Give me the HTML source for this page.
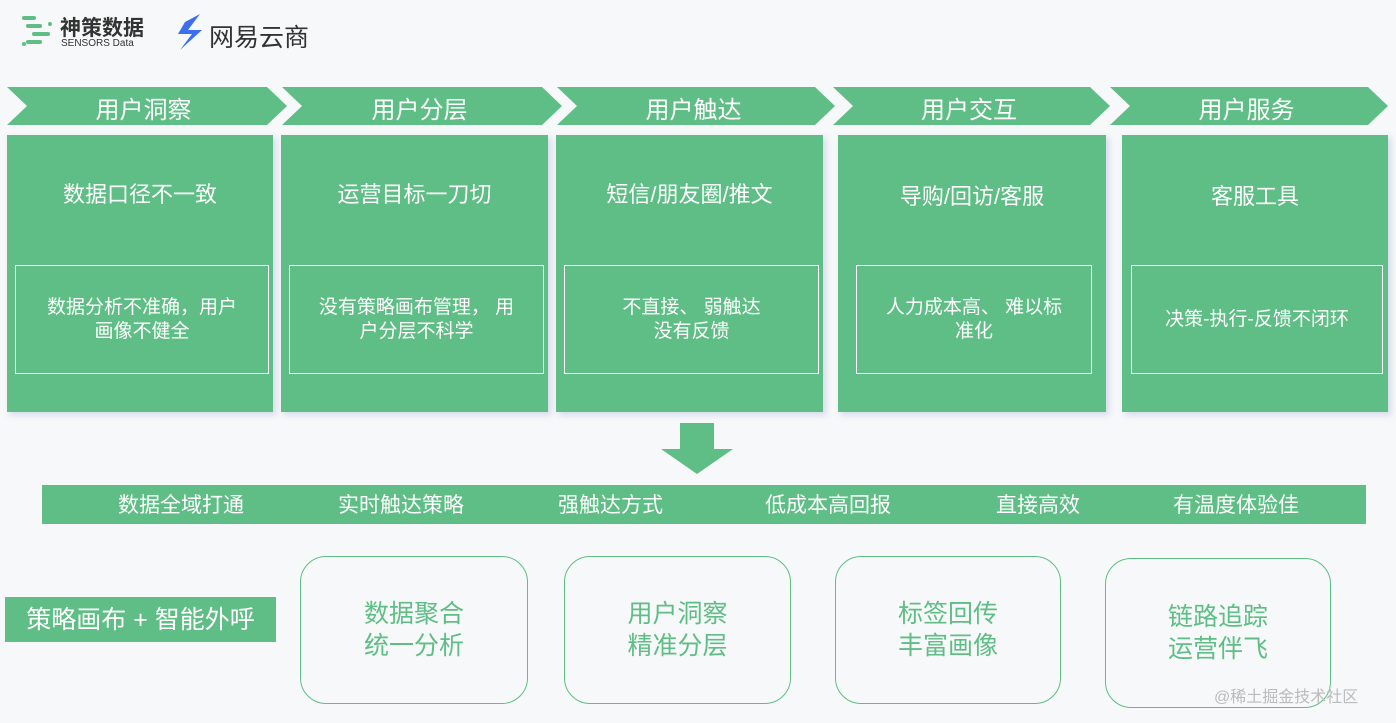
<!DOCTYPE html>
<html><head><meta charset="utf-8"><style>
body{margin:0;width:1396px;height:723px;background:#f6f8f9;position:relative;overflow:hidden;font-family:"Liberation Sans","Noto Sans CJK SC",sans-serif;}
.a{position:absolute;box-sizing:border-box}
.box{background:#5fbe85;box-shadow:3px 3px 6px rgba(120,130,200,.25)}
.t{color:#fff;text-align:center;position:absolute;left:0;right:0}
.in{position:absolute;border:1px solid #fff;display:flex;align-items:center;justify-content:center;color:#fff;font-size:19px;line-height:24px;text-align:center}
.rb{border:1.5px solid #5fbe85;border-radius:26px;background:#f6f8f9;display:flex;align-items:center;justify-content:center;color:#5fbe85;font-size:25px;line-height:32px;text-align:center}
</style></head><body>
<svg class="a" style="left:0;top:0" width="1396" height="723">
<g fill="#5fbe85">
<polygon points="7,87 267,87 287,106 267,125 7,125 27,106"/>
<polygon points="282,87 542,87 562,106 542,125 282,125 302,106"/>
<polygon points="557,87 815,87 835,106 815,125 557,125 577,106"/>
<polygon points="833,87 1090,87 1110,106 1090,125 833,125 853,106"/>
<polygon points="1110,87 1368,87 1388,106 1368,125 1110,125 1130,106"/>
<polygon points="680,423 714,423 714,449 733,449 697,474 661,449 680,449"/>
</g>
<g fill="#5fbe85"><rect x="22" y="16" width="14" height="4" rx="2"/><rect x="26" y="24" width="16" height="4" rx="2"/><rect x="32" y="32" width="18" height="4" rx="2"/><rect x="26" y="40" width="16" height="4" rx="2"/><rect x="48" y="22" width="4" height="4" rx="2"/><rect x="22" y="42" width="4" height="4" rx="2"/></g>
<path d="M185 22 L200 14 L188 30 L202 30 L180 50 L192 34 L178 34 Z" fill="#3b6ff0"/>
</svg>
<div class="a" style="left:60px;top:12px;font-size:21px;color:#333;font-weight:bold">神策数据</div>
<div class="a" style="left:61px;top:38px;font-size:10px;color:#333">SENSORS Data</div>
<div class="a" style="left:209px;top:18px;font-size:25px;color:#333">网易云商</div>
<div class="a t" style="left:0px;width:287px;right:auto;top:90px;font-size:24px">用户洞察</div>
<div class="a t" style="left:277px;width:285px;right:auto;top:90px;font-size:24px">用户分层</div>
<div class="a t" style="left:552px;width:283px;right:auto;top:90px;font-size:24px">用户触达</div>
<div class="a t" style="left:828px;width:282px;right:auto;top:90px;font-size:24px">用户交互</div>
<div class="a t" style="left:1105px;width:283px;right:auto;top:90px;font-size:24px">用户服务</div>

<div class="a box" style="left:7px;top:135px;width:266px;height:277px"><div class="t" style="top:42px;font-size:22px">数据口径不一致</div><div class="in" style="left:8px;top:130px;width:252px;height:107px">数据分析不准确，用户<br>画像不健全</div></div>
<div class="a box" style="left:281px;top:135px;width:267px;height:277px"><div class="t" style="top:42px;font-size:22px">运营目标一刀切</div><div class="in" style="left:8px;top:130px;width:253px;height:107px">没有策略画布管理， 用<br>户分层不科学</div></div>
<div class="a box" style="left:556px;top:135px;width:267px;height:277px"><div class="t" style="top:42px;font-size:22px">短信/朋友圈/推文</div><div class="in" style="left:8px;top:130px;width:253px;height:107px">不直接、 弱触达<br>没有反馈</div></div>
<div class="a box" style="left:838px;top:135px;width:268px;height:277px"><div class="t" style="top:44px;font-size:22px">导购/回访/客服</div><div class="in" style="left:18px;top:130px;width:234px;height:107px">人力成本高、 难以标<br>准化</div></div>
<div class="a box" style="left:1122px;top:135px;width:266px;height:277px"><div class="t" style="top:44px;font-size:22px">客服工具</div><div class="in" style="left:9px;top:130px;width:250px;height:107px">决策-执行-反馈不闭环</div></div>

<div class="a" style="left:42px;top:485px;width:1324px;height:39px;background:#5fbe85;color:#fff;font-size:21px;line-height:41px">
<span class="a" style="left:76px">数据全域打通</span><span class="a" style="left:296px">实时触达策略</span><span class="a" style="left:516px">强触达方式</span><span class="a" style="left:723px">低成本高回报</span><span class="a" style="left:954px">直接高效</span><span class="a" style="left:1131px">有温度体验佳</span></div>

<div class="a" style="left:5px;top:597px;width:271px;height:45px;background:#5fbe85;color:#fff;font-size:25px;line-height:47px;text-align:center">策略画布 + 智能外呼</div>
<div class="a rb" style="left:300px;top:556px;width:228px;height:148px">数据聚合<br>统一分析</div>
<div class="a rb" style="left:564px;top:556px;width:227px;height:148px">用户洞察<br>精准分层</div>
<div class="a rb" style="left:835px;top:556px;width:226px;height:148px">标签回传<br>丰富画像</div>
<div class="a rb" style="left:1105px;top:558px;width:226px;height:150px">链路追踪<br>运营伴飞</div>
<div class="a" style="left:1214px;top:683px;font-size:16px;color:#bbb">@稀土掘金技术社区</div>
</body></html>
